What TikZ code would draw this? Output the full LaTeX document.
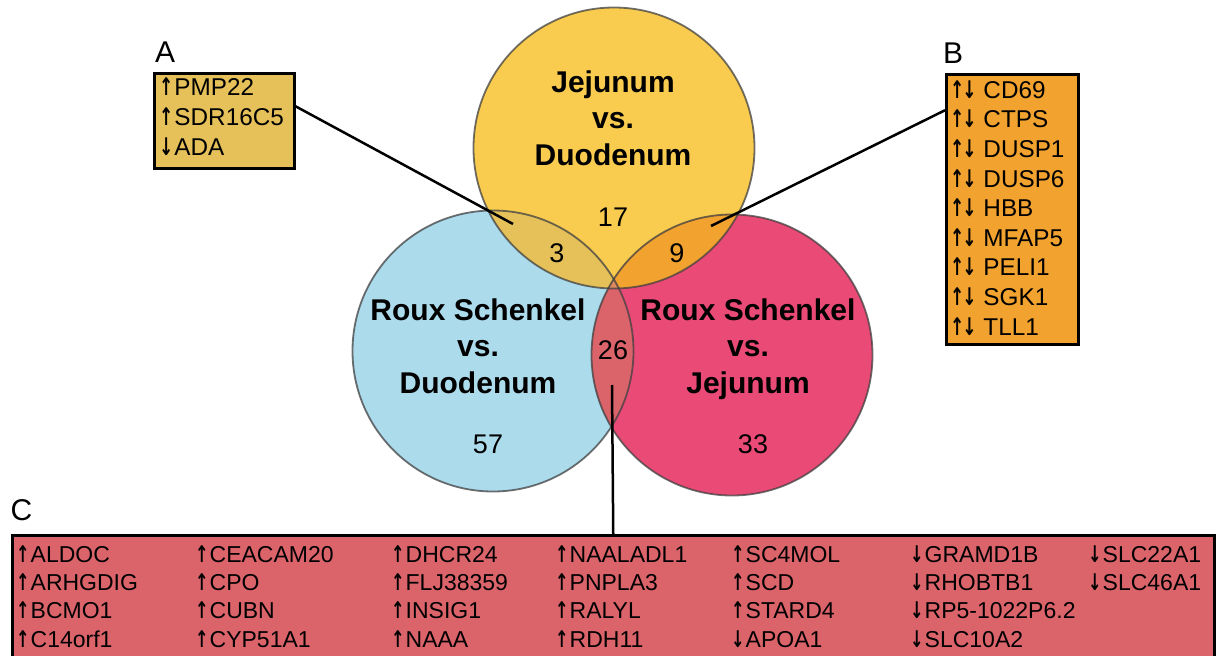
\documentclass[tikz,border=0pt]{standalone}
\usepackage{fontspec}
\setmainfont{Liberation Sans}
\newfontfamily\arrowfont{DejaVu Sans}
\usetikzlibrary{positioning,calc}

\definecolor{jdcol}{HTML}{F9CC4F}
\definecolor{rsdcol}{HTML}{ACDBEC}
\definecolor{rsjcol}{HTML}{EA4B76}
\definecolor{ybcol}{HTML}{E6C15A}
\definecolor{ypcol}{HTML}{F1A22F}
\definecolor{bpcol}{HTML}{DB646B}
\definecolor{allcol}{HTML}{DE8A5E}

\newcommand{\geneup}{{\arrowfont\bfseries\scalebox{0.7}[1]{↑}}\kern1pt}
\newcommand{\genedown}{{\arrowfont\bfseries\scalebox{0.7}[1]{↓}}\kern1pt}

\begin{document}
\begin{tikzpicture}[x=1pt, y=-1pt,
    venn/.style={circle, minimum size=281pt, inner sep=0pt},
    vennline/.style={draw=black!75, line width=1.8pt, draw opacity=0.75},
    vlabel/.style={font=\fontsize{30}{36.5}\selectfont\bfseries, align=center},
    tally/.style={font=\fontsize{27}{32}\selectfont},
    letter/.style={font=\fontsize{30}{36}\selectfont, anchor=base west, inner sep=0pt},
    genebox/.style={draw, line width=2.5pt, rectangle, anchor=north west, inner sep=0pt},
    gene/.style={font=\fontsize{23}{28}\selectfont, anchor=base west, inner sep=0pt},
    biggene/.style={gene, font=\fontsize{24.3}{29}\selectfont},
    link/.style={line width=2.5pt}]

  \useasboundingbox (0,0) rectangle (1216,656);

  % the three sets
  \node[venn, fill=jdcol] (jd) at (614,148) {};
  \node[venn, fill=rsdcol] (rsd) at (493,351) {};
  \node[venn, fill=rsjcol] (rsj) at (732,355) {};

  % overlaps
  \begin{scope}
    \clip (rsd.center) circle[radius=140.5pt];
    \fill[ybcol] (jd.center) circle[radius=140.5pt];
  \end{scope}
  \begin{scope}
    \clip (rsj.center) circle[radius=140.5pt];
    \fill[ypcol] (jd.center) circle[radius=140.5pt];
  \end{scope}
  \begin{scope}
    \clip (rsj.center) circle[radius=140.5pt];
    \fill[bpcol] (rsd.center) circle[radius=140.5pt];
    \clip (jd.center) circle[radius=140.5pt];
    \fill[allcol] (rsd.center) circle[radius=140.5pt];
  \end{scope}
  \foreach \s in {jd,rsd,rsj}
    \draw[vennline] (\s.center) circle[radius=140.5pt];

  \node[vlabel] (ljd) at (613,118) {Jejunum\\vs.\\Duodenum};
  \node[vlabel] (lrsd) at (478,346) {Roux Schenkel\\vs.\\Duodenum};
  \node[vlabel] (lrsj) at (748,349) {Roux Schenkel\\vs.\\Jejunum};

  \node[tally] (n17) at (613,217) {17};
  \node[tally] (n3) at (557,253) {3};
  \node[tally] (n9) at (677,253) {9};
  \node[tally] (n26) at (613,350) {26};
  \node[tally] (n57) at (488,444) {57};
  \node[tally] (n33) at (753,444) {33};

  % gene lists
  \node[genebox, fill=ybcol, minimum width=140, minimum height=95] (boxA) at (153,72) {};
  \node[letter] (labA) at (155,62) {A};
  \foreach \g [count=\r] in {\geneup PMP22, \geneup SDR16C5, \genedown ADA}
    \node[biggene] (a\r) at (159,{66+29.7*\r}) {\g};

  \node[genebox, fill=ypcol, minimum width=132, minimum height=270] (boxB) at (945,73) {};
  \node[letter] (labB) at (943,63) {B};
  \foreach \g [count=\r] in {CD69, CTPS, DUSP1, DUSP6, HBB, MFAP5, PELI1, SGK1, TLL1}
    \node[biggene] (b\r) at (950,{68.7+29.6*\r}) {{\arrowfont\bfseries\scalebox{0.7}[1]{↑}\kern-2pt\scalebox{0.7}[1]{↓}} \g};

  \node[genebox, fill=bpcol, minimum width=1202, minimum height=140] (boxC) at (11,534) {};
  \node[letter] (labC) at (10.5,520) {C};
  \foreach \cx/\glist [count=\c] in {
      16/{\geneup ALDOC, \geneup ARHGDIG, \geneup BCMO1, \geneup C14orf1},
      195/{\geneup CEACAM20, \geneup CPO, \geneup CUBN, \geneup CYP51A1},
      391/{\geneup DHCR24, \geneup FLJ38359, \geneup INSIG1, \geneup NAAA},
      555/{\geneup NAALADL1, \geneup PNPLA3, \geneup RALYL, \geneup RDH11},
      731/{\geneup SC4MOL, \geneup SCD, \geneup STARD4, \genedown APOA1},
      910/{\genedown GRAMD1B, \genedown RHOBTB1, \genedown RP5-1022P6.2, \genedown SLC10A2},
      1088/{\genedown SLC22A1, \genedown SLC46A1}}
    \foreach \g [count=\r] in \glist
      \node[gene] (c\c-\r) at (\cx,{533.6+28.4*\r}) {\g};

  % connectors
  \coordinate (pA) at (513,224);
  \coordinate (pB) at (711,226);
  \coordinate (pC) at (612,385);
  \draw[link] ([yshift=14.5pt]boxA.east) -- (pA);
  \draw[link] (pB) -- ([yshift=99pt]boxB.west);
  \draw[link] (pC) -- (boxC.north);
\end{tikzpicture}
\end{document}
